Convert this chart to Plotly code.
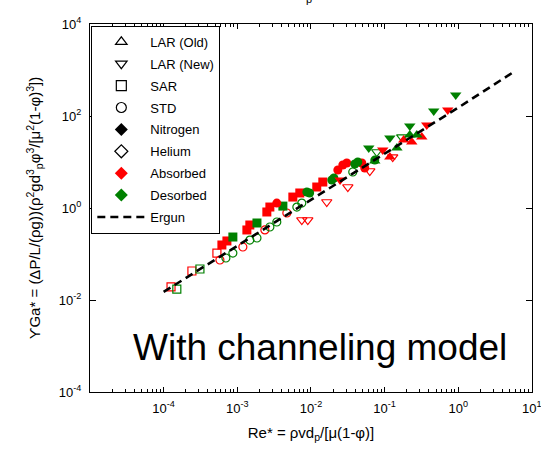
import plotly.graph_objects as go

RED = "#ff0000"
GREEN = "#008000"

# ---- data (Re*, PsiGa*) ----
sar_he_abs_x = [1.26e-4, 2.42e-4, 5.29e-4]
sar_he_abs_y = [0.0192, 0.0427, 0.105]
sar_he_des_x = [1.51e-4, 3.11e-4]
sar_he_des_y = [0.0173, 0.0472]
sar_n2_abs_x = [6.18e-4, 7.23e-4, 1.35e-3, 1.48e-3, 2.52e-3, 2.77e-3, 5.68e-3, 7.06e-3, 0.0120, 0.0145]
sar_n2_abs_y = [0.157, 0.192, 0.333, 0.427, 0.819, 1.05, 1.73, 2.12, 2.86, 3.67]
sar_n2_des_x = [8.71e-4, 1.85e-3, 4.16e-3]
sar_n2_des_y = [0.234, 0.472, 1.10]
std_he_abs_x = [5.81e-4, 1.19e-3, 2.37e-3, 4.71e-3]
std_he_abs_y = [0.0741, 0.142, 0.333, 0.778]
std_he_des_x = [7.0e-4, 8.71e-4, 1.48e-3, 1.85e-3, 2.77e-3, 3.44e-3, 6.44e-3, 7.52e-3, 0.0370]
std_he_des_y = [0.0818, 0.105, 0.201, 0.223, 0.386, 0.496, 1.05, 1.28, 6.06]
std_n2_abs_x = [3.44e-3, 0.0232, 0.0271, 0.0307, 0.0491, 0.0538]
std_n2_abs_y = [1.28, 6.70, 8.61, 9.51, 9.51, 7.41]
std_n2_des_x = [8.80e-3, 9.6e-3, 0.0192, 0.0205, 0.0394, 0.0433, 0.0736]
std_n2_des_y = [2.23, 2.12, 4.06, 4.49, 9.05, 10.0, 11.0]
larn_he_abs_x = [7.52e-3, 9.07e-3, 0.0164, 0.0317, 0.0630, 0.129]
larn_he_abs_y = [0.548, 0.548, 1.35, 2.86, 6.37, 12.8]
larn_he_des_x = [0.0784, 0.171]
larn_he_des_y = [16.5, 34.9]
larn_n2_abs_x = [0.0249, 0.0945, 0.374, 0.721]
larn_n2_abs_y = [4.06, 18.2, 63.7, 135]
larn_n2_des_x = [0.0610, 0.118, 0.220, 0.465, 0.925]
larn_n2_des_y = [20.2, 33.2, 60.7, 128, 286]
laro_n2_abs_x = [0.118, 0.182, 0.234, 0.320]
laro_n2_abs_y = [12.8, 30.1, 27.2, 34.9]
laro_n2_des_x = [0.0736, 0.147, 0.220, 0.274]
laro_n2_des_y = [10.5, 20.2, 38.6, 38.6]

ergun_x = [1e-4, 1e-3, 1e-2, 1e-1, 1.0, 5.8]
ergun_y = [0.015, 0.15, 1.5, 15.2, 152, 930]

legend_names = ["LAR (Old)", "LAR (New)", "SAR", "STD", "Nitrogen", "Helium", "Absorbed", "Desorbed"]
legend_symbols = ["triangle-up-open", "triangle-down-open", "square-open", "circle-open",
                  "diamond", "diamond-open", "diamond", "diamond"]
legend_colors = ["black", "black", "black", "black", "black", "black", RED, GREEN]

x_tickvals = [1e-4, 1e-3, 1e-2, 1e-1, 1e0, 1e1]
x_ticktext = ["10<sup>-4</sup>", "10<sup>-3</sup>", "10<sup>-2</sup>", "10<sup>-1</sup>", "10<sup>0</sup>", "10<sup>1</sup>"]
y_tickvals = [1e-4, 1e-2, 1e0, 1e2, 1e4]
y_ticktext = ["10<sup>-4</sup>", "10<sup>-2</sup>", "10<sup>0</sup>", "10<sup>2</sup>", "10<sup>4</sup>"]

fig = go.Figure()

def add(x, y, symbol, color, size=8):
    fig.add_trace(go.Scatter(
        x=x, y=y, mode="markers", showlegend=False, hoverinfo="skip",
        marker=dict(symbol=symbol, color=color, size=size,
                    line=dict(color=color, width=1.2 if "open" in symbol else 0))))

add(sar_he_abs_x, sar_he_abs_y, "square-open", RED)
add(sar_he_des_x, sar_he_des_y, "square-open", GREEN)
add(std_he_abs_x, std_he_abs_y, "circle-open", RED)
add(std_he_des_x, std_he_des_y, "circle-open", GREEN)
add(sar_n2_abs_x, sar_n2_abs_y, "square", RED, 9)
add(sar_n2_des_x, sar_n2_des_y, "square", GREEN, 9)
add(std_n2_abs_x, std_n2_abs_y, "circle", RED, 9)
add(std_n2_des_x, std_n2_des_y, "circle", GREEN, 9)
add(larn_he_abs_x, larn_he_abs_y, "triangle-down-open", RED, 9)
add(larn_he_des_x, larn_he_des_y, "triangle-down-open", GREEN, 9)
add(larn_n2_abs_x, larn_n2_abs_y, "triangle-down", RED, 10)
add(larn_n2_des_x, larn_n2_des_y, "triangle-down", GREEN, 10)
add(laro_n2_abs_x, laro_n2_abs_y, "triangle-up", RED, 10)
add(laro_n2_des_x, laro_n2_des_y, "triangle-up", GREEN, 10)

fig.add_trace(go.Scatter(x=ergun_x, y=ergun_y, mode="lines", showlegend=False,
                         line=dict(color="black", width=2.6, dash="8px,5px")))

# legend entries
for i, (nm, sym, col) in enumerate(zip(legend_names, legend_symbols, legend_colors)):
    fig.add_trace(go.Scatter(x=[None], y=[None], mode="markers", name=nm, legendgroup=f"g{i}",
                             marker=dict(symbol=sym, color=col, size=10,
                                         line=dict(color=col, width=1.2 if "open" in sym else 0))))
fig.add_trace(go.Scatter(x=[None], y=[None], mode="lines", name="Ergun", legendgroup="g9",
                         line=dict(color="black", width=2.6, dash="8px,5px")))

font = "Liberation Sans, Arial, sans-serif"

fig.update_layout(
    width=541, height=455,
    margin=dict(l=90, r=9, t=24, b=63),
    paper_bgcolor="white", plot_bgcolor="white",
    font=dict(family=font, color="black", size=13),
    legend=dict(x=0.003, y=0.995, xanchor="left", yanchor="top",
                bordercolor="black", borderwidth=1, bgcolor="white",
                font=dict(size=13), tracegroupgap=2, itemwidth=48),
    annotations=[
        dict(text="With channeling model", xref="paper", yref="paper", x=0.52, y=0.12,
             xanchor="center", yanchor="middle", showarrow=False,
             font=dict(size=37, family=font, color="black")),
        dict(text="p", xref="paper", yref="paper", x=0.495, y=1.0, yshift=17,
             xanchor="center", yanchor="bottom", showarrow=False,
             font=dict(size=11, family=font, color="black")),
    ],
)

fig.update_xaxes(type="log", range=[-5, 1.002], showgrid=False, zeroline=False,
                 showline=True, linecolor="black", linewidth=1, mirror="allticks",
                 ticks="inside", ticklen=5, tickcolor="black",
                 tickvals=x_tickvals, ticktext=x_ticktext, ticklabelstandoff=4,
                 ticklabeloverflow="allow", automargin=False,
                 minor=dict(ticks="inside", ticklen=3, tickcolor="black", dtick="D1", showgrid=False),
                 title=dict(text="Re* = ρvd<sub>p</sub>/[μ(1-φ)]", font=dict(size=15), standoff=12))
fig.update_yaxes(type="log", range=[-4, 4], showgrid=False, zeroline=False,
                 showline=True, linecolor="black", linewidth=1, mirror="allticks",
                 ticks="inside", ticklen=6, tickcolor="black",
                 tickvals=y_tickvals, ticktext=y_ticktext, ticklabelstandoff=5,
                 title=dict(text="ϒGa* = (ΔP/L/(ρg))(ρ<sup>2</sup>gd<sup>3</sup><sub>p</sub>φ<sup>3</sup>/[μ<sup>2</sup>(1-φ)<sup>3</sup>])",
                            font=dict(size=15), standoff=14))

fig.write_html("out.html")
